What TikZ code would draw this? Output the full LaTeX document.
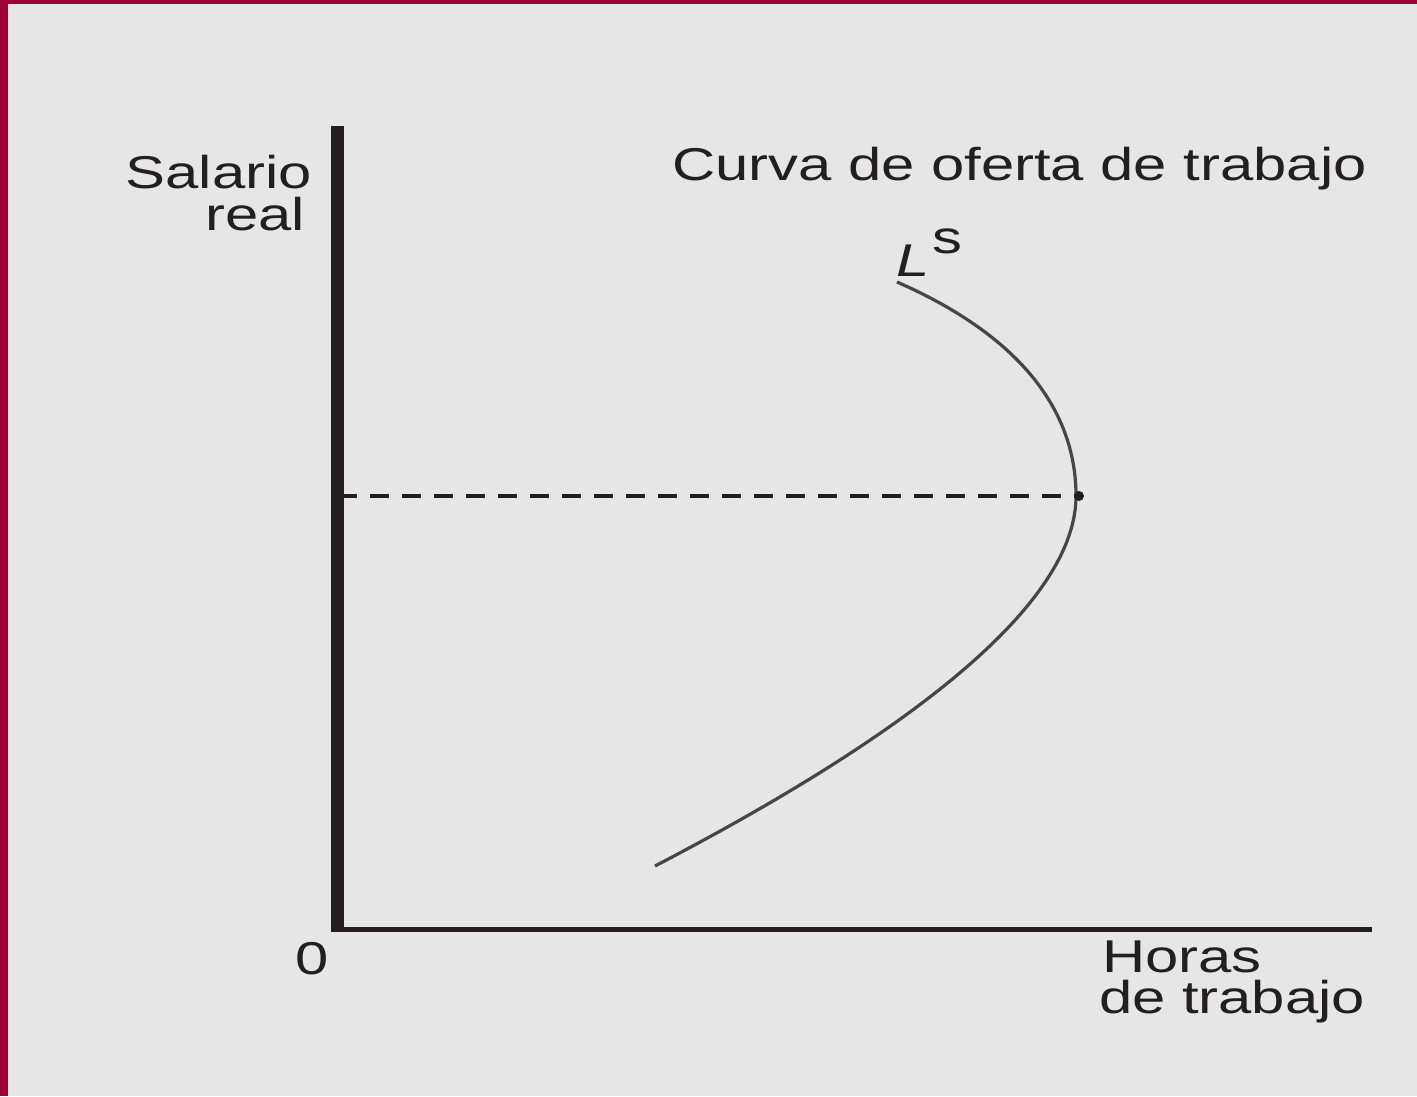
\documentclass[tikz,border=0pt]{standalone}
\usepackage{fontspec}
\setmainfont{Liberation Sans}[FakeStretch=1.3]
\definecolor{bgc}{HTML}{E6E6E6}
\definecolor{frame}{HTML}{9C0036}
\definecolor{ink}{HTML}{231F20}
\definecolor{curvec}{HTML}{464646}
\begin{document}
\begin{tikzpicture}[x=1pt,y=-1pt,
  lbl/.style={inner sep=0pt, outer sep=0pt, text=ink, font=\fontsize{46}{41}\selectfont},
  curveline/.style={draw=curvec, line width=3.2pt, line cap=butt},
  dashline/.style={draw=ink, line width=4pt, dash pattern=on 19pt off 13pt, dash phase=6pt},
  axisv/.style={draw=ink, line width=13pt},
  axish/.style={draw=ink, line width=5pt}]
\useasboundingbox (0,0) rectangle (1417,1096);
\fill[bgc] (0,0) rectangle (1417,1096);
\fill[frame] (0,0) rectangle (1417,4);
\fill[frame] (0,0) rectangle (8,1096);
% axes
\coordinate (vtop) at (337.5,126);
\coordinate (vbot) at (337.5,932);
\coordinate (hleft) at (331,929.5);
\coordinate (hright) at (1372,929.5);
\draw[axisv] (vtop) -- (vbot);
\draw[axish] (hleft) -- (hright);
% supply curve
\coordinate (cbot) at (655,866);
\coordinate (cmid) at (1076,496);
\coordinate (ctop) at (897,282);
\draw[curveline] (cbot) .. controls (985,694) and (1076,576) .. (cmid)
  .. controls (1076,416) and (1027,339) .. (ctop);
% dashed line and point
\coordinate (dstart) at (344,496);
\coordinate (pt) at (1079,496);
\draw[dashline] (dstart) -- (pt);
\fill[ink] (pt) circle (5pt);
% labels
\node[lbl, anchor=base east] (sal) at (312,188) {Salario};
\node[lbl, anchor=base east] (real) at (305,230) {real};
\node[lbl, anchor=base west] (curva) at (672,180) {Curva de oferta de trabajo};
\node[lbl, anchor=base west] (ls) at (896,276) {\textit{L}\hspace{3pt}\raisebox{23pt}{s}};
\node[lbl, anchor=base] (zero) at (312,974) {0};
\node[lbl, anchor=north west, align=left] (horas) at (1099,941) {\hspace{3pt}Horas\\de trabajo};
\end{tikzpicture}
\end{document}
